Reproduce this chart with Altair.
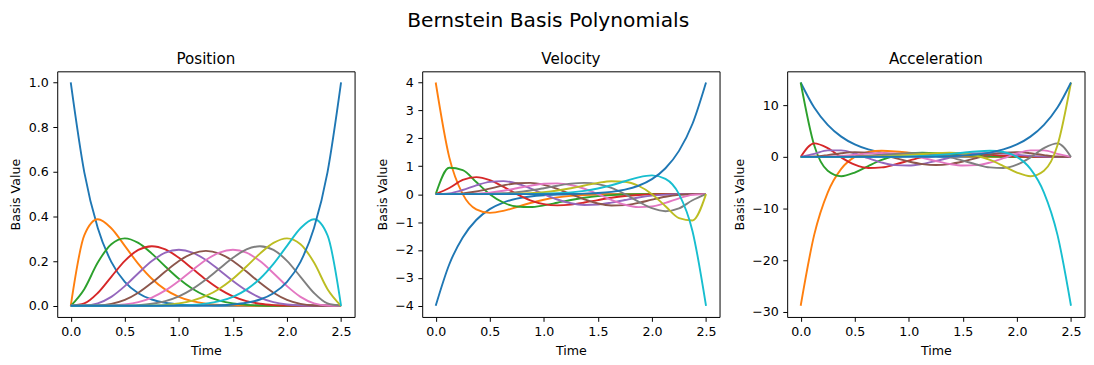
import altair as alt
import pandas as pd

# ---------------- data ----------------
time = [0.0, 0.125, 0.25, 0.375, 0.5, 0.625, 0.75, 0.875, 1.0, 1.125, 1.25,
        1.375, 1.5, 1.625, 1.75, 1.875, 2.0, 2.125, 2.25, 2.375, 2.5]

series_names = ["B00", "B01", "B02", "B03", "B04", "B05", "B06", "B07", "B08", "B09", "B10"]
series_colors = ["#1f77b4", "#ff7f0e", "#2ca02c", "#d62728", "#9467bd", "#8c564b",
                 "#e377c2", "#7f7f7f", "#bcbd22", "#17becf", "#1f77b4"]

# Position panel
pos_0 = [1.0, 0.5987, 0.3487, 0.1969, 0.1074, 0.0563, 0.0282, 0.0135, 0.0060, 0.0025, 0.0010, 0.0003, 0.0001, 0, 0, 0, 0, 0, 0, 0, 0]
pos_1 = [0, 0.3151, 0.3874, 0.3474, 0.2684, 0.1877, 0.1211, 0.0725, 0.0403, 0.0207, 0.0098, 0.0042, 0.0016, 0.0005, 0.0001, 0, 0, 0, 0, 0, 0]
pos_2 = [0, 0.0746, 0.1937, 0.2759, 0.3020, 0.2816, 0.2335, 0.1757, 0.1209, 0.0763, 0.0439, 0.0229, 0.0106, 0.0043, 0.0014, 0.0004, 0.0001, 0, 0, 0, 0]
pos_3 = [0, 0.0105, 0.0574, 0.1298, 0.2013, 0.2503, 0.2668, 0.2522, 0.2150, 0.1665, 0.1172, 0.0746, 0.0425, 0.0212, 0.0090, 0.0031, 0.0008, 0.0001, 0, 0, 0]
pos_4 = [0, 0.0010, 0.0112, 0.0401, 0.0881, 0.1460, 0.2001, 0.2377, 0.2508, 0.2384, 0.2051, 0.1596, 0.1115, 0.0689, 0.0368, 0.0162, 0.0055, 0.0012, 0.0001, 0, 0]
pos_5 = [0, 0.0001, 0.0015, 0.0085, 0.0264, 0.0584, 0.1029, 0.1536, 0.2007, 0.2340, 0.2461, 0.2340, 0.2007, 0.1536, 0.1029, 0.0584, 0.0264, 0.0085, 0.0015, 0.0001, 0]
pos_6 = [0, 0, 0.0001, 0.0012, 0.0055, 0.0162, 0.0368, 0.0689, 0.1115, 0.1596, 0.2051, 0.2384, 0.2508, 0.2377, 0.2001, 0.1460, 0.0881, 0.0401, 0.0112, 0.0010, 0]
pos_7 = [0, 0, 0, 0.0001, 0.0008, 0.0031, 0.0090, 0.0212, 0.0425, 0.0746, 0.1172, 0.1665, 0.2150, 0.2522, 0.2668, 0.2503, 0.2013, 0.1298, 0.0574, 0.0105, 0]
pos_8 = [0, 0, 0, 0, 0.0001, 0.0004, 0.0014, 0.0043, 0.0106, 0.0229, 0.0439, 0.0763, 0.1209, 0.1757, 0.2335, 0.2816, 0.3020, 0.2759, 0.1937, 0.0746, 0]
pos_9 = [0, 0, 0, 0, 0, 0, 0.0001, 0.0005, 0.0016, 0.0042, 0.0098, 0.0207, 0.0403, 0.0725, 0.1211, 0.1877, 0.2684, 0.3474, 0.3874, 0.3151, 0]
pos_10 = [0, 0, 0, 0, 0, 0, 0, 0, 0.0001, 0.0003, 0.0010, 0.0025, 0.0060, 0.0135, 0.0282, 0.0563, 0.1074, 0.1969, 0.3487, 0.5987, 1.0]

# Velocity panel
vel_0 = [-4.0, -2.5210, -1.5497, -0.9265, -0.5369, -0.3003, -0.1614, -0.0828, -0.0403, -0.0184, -0.0078, -0.0030, -0.0010, -0.0003, -0.0001, 0, 0, 0, 0, 0, 0]
vel_1 = [4.0, 1.3268, 0.0, -0.5450, -0.6711, -0.6007, -0.4612, -0.3186, -0.2016, -0.1172, -0.0625, -0.0303, -0.0131, -0.0050, -0.0016, -0.0004, -0.0001, 0, 0, 0, 0]
vel_2 = [0, 0.9428, 0.8609, 0.4328, 0.0, -0.3003, -0.4447, -0.4633, -0.4031, -0.3083, -0.2109, -0.1295, -0.0708, -0.0339, -0.0138, -0.0045, -0.0011, -0.0002, 0, 0, 0]
vel_3 = [0, 0.2205, 0.5102, 0.6110, 0.5033, 0.2670, 0.0, -0.2217, -0.3583, -0.4036, -0.3750, -0.3014, -0.2123, -0.1305, -0.0686, -0.0297, -0.0098, -0.0022, -0.0002, 0, 0]
vel_4 = [0, 0.0284, 0.1488, 0.3145, 0.4404, 0.4672, 0.3812, 0.2089, 0.0, -0.1926, -0.3281, -0.3868, -0.3716, -0.3029, -0.2100, -0.1211, -0.0550, -0.0176, -0.0031, -0.0001, 0]
vel_5 = [0, 0.0023, 0.0265, 0.0932, 0.1982, 0.3115, 0.3921, 0.4050, 0.3344, 0.1891, 0.0, -0.1891, -0.3344, -0.4050, -0.3921, -0.3115, -0.1982, -0.0932, -0.0265, -0.0023, 0]
vel_6 = [0, 0.0001, 0.0031, 0.0176, 0.0550, 0.1211, 0.2100, 0.3029, 0.3716, 0.3868, 0.3281, 0.1926, 0.0, -0.2089, -0.3812, -0.4672, -0.4404, -0.3145, -0.1488, -0.0284, 0]
vel_7 = [0, 0, 0.0002, 0.0022, 0.0098, 0.0297, 0.0686, 0.1305, 0.2123, 0.3014, 0.3750, 0.4036, 0.3583, 0.2217, 0.0, -0.2670, -0.5033, -0.6110, -0.5102, -0.2205, 0]
vel_8 = [0, 0, 0, 0.0002, 0.0011, 0.0045, 0.0138, 0.0339, 0.0708, 0.1295, 0.2109, 0.3083, 0.4031, 0.4633, 0.4447, 0.3003, 0.0, -0.4328, -0.8609, -0.9428, 0]
vel_9 = [0, 0, 0, 0, 0.0001, 0.0004, 0.0016, 0.0050, 0.0131, 0.0303, 0.0625, 0.1172, 0.2016, 0.3186, 0.4612, 0.6007, 0.6711, 0.5450, 0.0, -1.3268, -4.0]
vel_10 = [0, 0, 0, 0, 0, 0, 0.0001, 0.0003, 0.0010, 0.0030, 0.0078, 0.0184, 0.0403, 0.0828, 0.1614, 0.3003, 0.5369, 0.9265, 1.5497, 2.5210, 4.0]

# Acceleration panel
acc_0 = [14.4, 9.5532, 6.1987, 3.9239, 2.4159, 1.4416, 0.8301, 0.4589, 0.2419, 0.1206, 0.0563, 0.0242, 0.0094, 0.0032, 0.0009, 0.0002, 0, 0, 0, 0, 0]
acc_1 = [-28.8, -15.0841, -6.8875, -2.3082, 0.0, 0.9611, 1.1859, 1.0589, 0.8062, 0.5481, 0.3375, 0.1883, 0.0944, 0.0417, 0.0158, 0.0048, 0.0011, 0.0002, 0, 0, 0]
acc_2 = [14.4, 2.2494, -2.6785, -3.7337, -3.0199, -1.7620, -0.5929, 0.2308, 0.6718, 0.8022, 0.7312, 0.5635, 0.3775, 0.2200, 0.1097, 0.0450, 0.0142, 0.0030, 0.0003, 0, 0]
acc_3 = [0, 2.6185, 1.7006, -0.0959, -1.5099, -2.1358, -2.0330, -1.4620, -0.7166, -0.0326, 0.4500, 0.6869, 0.7078, 0.5850, 0.4017, 0.2268, 0.1003, 0.0312, 0.0052, 0.0002, 0]
acc_4 = [0, 0.5901, 1.2566, 1.2727, 0.6606, -0.2492, -1.0891, -1.5981, -1.6722, -1.3542, -0.7875, -0.1563, 0.3716, 0.6870, 0.7602, 0.6368, 0.4129, 0.1945, 0.0547, 0.0047, 0]
acc_5 = [0, 0.0680, 0.3498, 0.7124, 0.9249, 0.8306, 0.4107, -0.2255, -0.8918, -1.3907, -1.5750, -1.3907, -0.8918, -0.2255, 0.4107, 0.8306, 0.9249, 0.7124, 0.3498, 0.0680, 0]
acc_6 = [0, 0.0047, 0.0547, 0.1945, 0.4129, 0.6368, 0.7602, 0.6870, 0.3716, -0.1563, -0.7875, -1.3542, -1.6722, -1.5981, -1.0891, -0.2492, 0.6606, 1.2727, 1.2566, 0.5901, 0]
acc_7 = [0, 0.0002, 0.0052, 0.0312, 0.1003, 0.2268, 0.4017, 0.5850, 0.7078, 0.6869, 0.4500, -0.0326, -0.7166, -1.4620, -2.0330, -2.1358, -1.5099, -0.0959, 1.7006, 2.6185, 0]
acc_8 = [0, 0, 0.0003, 0.0030, 0.0142, 0.0450, 0.1097, 0.2200, 0.3775, 0.5635, 0.7312, 0.8022, 0.6718, 0.2308, -0.5929, -1.7620, -3.0199, -3.7337, -2.6785, 2.2494, 14.4]
acc_9 = [0, 0, 0, 0.0002, 0.0011, 0.0048, 0.0158, 0.0417, 0.0944, 0.1883, 0.3375, 0.5481, 0.8062, 1.0589, 1.1859, 0.9611, 0.0, -2.3082, -6.8875, -15.0841, -28.8]
acc_10 = [0, 0, 0, 0, 0, 0.0002, 0.0009, 0.0032, 0.0094, 0.0242, 0.0563, 0.1206, 0.2419, 0.4589, 0.8301, 1.4416, 2.4159, 3.9239, 6.1987, 9.5532, 14.4]

x_ticks = [0.0, 0.5, 1.0, 1.5, 2.0, 2.5]
pos_ticks = [0.0, 0.2, 0.4, 0.6, 0.8, 1.0]
vel_ticks = [-4, -3, -2, -1, 0, 1, 2, 3, 4]
acc_ticks = [-30, -20, -10, 0, 10]

position = [pos_0, pos_1, pos_2, pos_3, pos_4, pos_5, pos_6, pos_7, pos_8, pos_9, pos_10]
velocity = [vel_0, vel_1, vel_2, vel_3, vel_4, vel_5, vel_6, vel_7, vel_8, vel_9, vel_10]
acceleration = [acc_0, acc_1, acc_2, acc_3, acc_4, acc_5, acc_6, acc_7, acc_8, acc_9, acc_10]


def long_table(curves):
    rows = []
    for name, vals in zip(series_names, curves):
        for t, v in zip(time, vals):
            rows.append({"Time": t, "Value": v, "series": name})
    return pd.DataFrame(rows)


FONT = "DejaVu Sans"
W, H = 299, 247
LABEL_FS = 12.7


def panel(curves, title, ydomain, yticks, yfmt):
    return (
        alt.Chart(long_table(curves))
        .mark_line(strokeWidth=1.9, interpolate="monotone")
        .encode(
            x=alt.X("Time:Q",
                    scale=alt.Scale(domain=[-0.125, 2.625], nice=False, zero=False),
                    axis=alt.Axis(values=x_ticks, format=".1f", title="Time",
                                  titlePadding=5.7, labelFlush=False)),
            y=alt.Y("Value:Q",
                    scale=alt.Scale(domain=ydomain, nice=False, zero=False),
                    axis=alt.Axis(values=yticks, format=yfmt, title="Basis Value",
                                  titlePadding=5.6)),
            color=alt.Color("series:N",
                            scale=alt.Scale(domain=series_names, range=series_colors),
                            legend=None),
        )
        .properties(
            width=W, height=H,
            title=alt.TitleParams(title, font=FONT, fontSize=15.2, fontWeight="normal",
                                  color="black", offset=4.5),
        )
    )


p1 = panel(position, "Position", [-0.05, 1.05], pos_ticks, ".1f")
p2 = panel(velocity, "Velocity", [-4.4, 4.4], vel_ticks, "d")
p3 = panel(acceleration, "Acceleration", [-30.96, 16.56], acc_ticks, "d")

chart = (
    alt.hconcat(p1, p2, p3, spacing=68, bounds="flush")
    .properties(
        title=alt.TitleParams("Bernstein Basis Polynomials", font=FONT, fontSize=20.3,
                              fontWeight="normal", color="black", anchor="middle",
                              offset=19.8, dx=1),
        padding={"left": 0.5, "top": 1.7, "right": 0.5, "bottom": 0},
    )
    .configure_view(stroke="black", strokeWidth=1.0)
    .configure_axis(
        grid=False, domain=False, ticks=True, tickColor="black", tickWidth=1.0,
        tickSize=4.4, labelFont=FONT, labelFontSize=LABEL_FS, labelColor="black",
        labelPadding=4.5, titleFont=FONT, titleFontSize=LABEL_FS, titleColor="black",
        titleFontWeight="normal",
    )
)

chart.save("out.html", embed_options={"renderer": "svg", "actions": False})
